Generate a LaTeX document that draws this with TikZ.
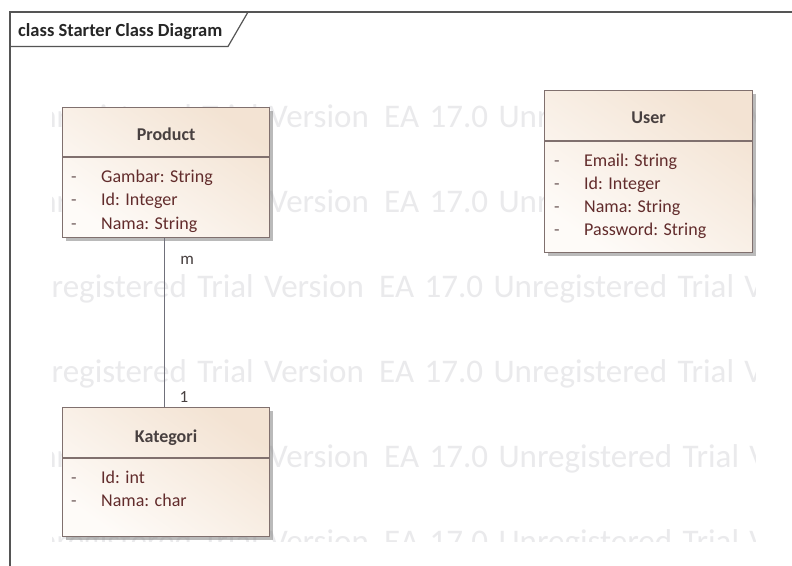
\documentclass[tikz,border=0pt]{standalone}
\usepackage{fontspec}
\setmainfont{Carlito}
\newfontfamily\wmfont[WordSpace=1.4]{Carlito}
\usetikzlibrary{shadows}

\definecolor{frameline}{RGB}{85,85,85}
\definecolor{boxline}{RGB}{128,112,110}
\definecolor{boxlight}{RGB}{254,251,248}
\definecolor{boxdark}{RGB}{243,227,211}
\definecolor{titletext}{RGB}{72,64,64}
\definecolor{attrtext}{RGB}{98,44,44}
\definecolor{dashtext}{RGB}{110,90,90}
\definecolor{wmtext}{RGB}{234,234,236}
\definecolor{linkline}{RGB}{112,112,122}

\tikzset{
  classbox/.style={draw=boxline, line width=1.1pt, rectangle, inner sep=0pt,
    anchor=north west, bottom color=boxlight, top color=boxdark, shading angle=-35,
    drop shadow={shadow xshift=3pt, shadow yshift=-3pt, fill=black!45, opacity=0.6}},
  sepline/.style={draw=boxline, line width=1.1pt},
  ctitle/.style={anchor=base, inner sep=0pt, text=titletext,
    font=\fontsize{18}{20}\selectfont\bfseries},
  attr/.style={anchor=base west, inner sep=0pt, text=attrtext,
    font=\fontsize{18}{20}\selectfont},
  vis/.style={anchor=base west, inner sep=0pt, text=dashtext,
    font=\fontsize{18}{20}\selectfont},
  mult/.style={anchor=center, inner sep=0pt, text=titletext,
    font=\fontsize{17}{19}\selectfont},
  wmark/.style={anchor=base west, inner sep=0pt, text=wmtext,
    font=\wmfont\fontsize{33}{35}\selectfont},
  link/.style={draw=linkline, line width=1.5pt},
}

\newcommand{\wmline}{Unregistered Trial Version\hspace{5pt} EA 17.0 Unregistered Trial Version\hspace{5pt} EA}

\begin{document}
\begin{tikzpicture}[x=1pt, y=-1pt]
\useasboundingbox (0,0) rectangle (792,565);
\fill[white] (0,0) rectangle (792,565);

% watermark rows, clipped to the drawing area
\begin{scope}
  \clip (52,0) rectangle (755,541);
  \node[wmark] (wm1) at (18,127) {\wmline};
  \node[wmark] (wm2) at (18,212) {\wmline};
  \node[wmark] (wm3) at (13,297) {\wmline};
  \node[wmark] (wm4) at (13,382) {\wmline};
  \node[wmark] (wm5) at (18,467) {\wmline};
  \node[wmark] (wm6) at (18,552) {\wmline};
\end{scope}

% diagram frame with its name tab
\coordinate (fbl) at (10,570);
\coordinate (ftl) at (10,12);
\coordinate (ftr) at (800,12);
\draw[frameline, line width=1.6pt] (fbl) -- (ftl) -- (ftr);
\coordinate (tabl) at (10,46.5);
\coordinate (tabb) at (228,46.5);
\coordinate (tabt) at (248,12);
\draw[frameline, line width=1.2pt] (tabl) -- (tabb) -- (tabt);
\node[anchor=base west, inner sep=0pt, font=\fontsize{18.5}{20}\selectfont\bfseries, text=black!85]
  (frametitle) at (18,36) {class Starter Class Diagram};

% class Product
\node[classbox, minimum width=207pt, minimum height=130pt] (product) at (62,107) {};
\draw[sepline] ([yshift=-50pt]product.north west) -- ([yshift=-50pt]product.north east);
\node[ctitle] (product-name) at ([yshift=-33pt]product.north) {Product};
\node[vis]  (product-v1) at ([xshift=9pt,yshift=-75pt]product.north west) {-};
\node[attr] (product-a1) at ([xshift=39pt,yshift=-75pt]product.north west) {Gambar: String};
\node[vis]  (product-v2) at ([xshift=9pt,yshift=-98.5pt]product.north west) {-};
\node[attr] (product-a2) at ([xshift=39pt,yshift=-98.5pt]product.north west) {Id: Integer};
\node[vis]  (product-v3) at ([xshift=9pt,yshift=-122pt]product.north west) {-};
\node[attr] (product-a3) at ([xshift=39pt,yshift=-122pt]product.north west) {Nama: String};

% class User
\node[classbox, minimum width=208pt, minimum height=162pt] (user) at (544,90) {};
\draw[sepline] ([yshift=-51pt]user.north west) -- ([yshift=-51pt]user.north east);
\node[ctitle] (user-name) at ([yshift=-33pt]user.north) {User};
\node[vis]  (user-v1) at ([xshift=10pt,yshift=-76pt]user.north west) {-};
\node[attr] (user-a1) at ([xshift=40pt,yshift=-76pt]user.north west) {Email: String};
\node[vis]  (user-v2) at ([xshift=10pt,yshift=-99pt]user.north west) {-};
\node[attr] (user-a2) at ([xshift=40pt,yshift=-99pt]user.north west) {Id: Integer};
\node[vis]  (user-v3) at ([xshift=10pt,yshift=-122pt]user.north west) {-};
\node[attr] (user-a3) at ([xshift=40pt,yshift=-122pt]user.north west) {Nama: String};
\node[vis]  (user-v4) at ([xshift=10pt,yshift=-145pt]user.north west) {-};
\node[attr] (user-a4) at ([xshift=40pt,yshift=-145pt]user.north west) {Password: String};

% class Kategori
\node[classbox, minimum width=207pt, minimum height=129pt] (kategori) at (62,407) {};
\draw[sepline] ([yshift=-51pt]kategori.north west) -- ([yshift=-51pt]kategori.north east);
\node[ctitle] (kategori-name) at ([yshift=-35pt]kategori.north) {Kategori};
\node[vis]  (kategori-v1) at ([xshift=9pt,yshift=-76pt]kategori.north west) {-};
\node[attr] (kategori-a1) at ([xshift=39pt,yshift=-76pt]kategori.north west) {Id: int};
\node[vis]  (kategori-v2) at ([xshift=9pt,yshift=-99.5pt]kategori.north west) {-};
\node[attr] (kategori-a2) at ([xshift=39pt,yshift=-99.5pt]kategori.north west) {Nama: char};

% association Product (m) -- Kategori (1)
\draw[link] ([xshift=-1.5pt]product.south) -- ([xshift=-1.5pt]kategori.north);
\node[mult] (mult-m) at ([xshift=21pt,yshift=-22pt]product.south) {m};
\node[mult] (mult-1) at ([xshift=18pt,yshift=10pt]kategori.north) {1};
\end{tikzpicture}
\end{document}
